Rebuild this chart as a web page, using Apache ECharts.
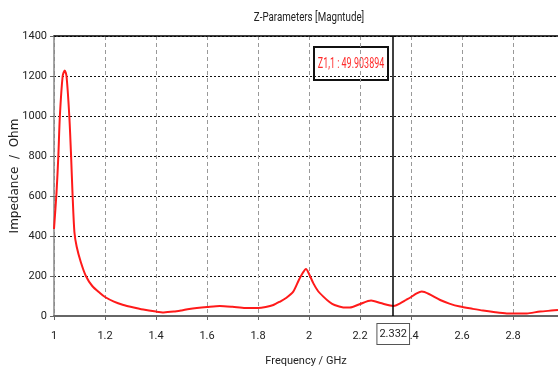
<!DOCTYPE html>
<html>
<head>
<meta charset="utf-8">
<script src="https://cdn.jsdelivr.net/npm/echarts@6/dist/echarts.min.js"></script>
<style>html,body{margin:0;padding:0;background:#fff}#c{width:558px;height:367px}</style>
</head>
<body>
<div id="c"></div>
<script>
var FONT = 'Roboto,"Liberation Sans",sans-serif';
var titleText = 'Z-Parameters [Magntude]';
var xName = 'Frequency / GHz';
var yName = 'Impedance  /  Ohm';
var markerFreq = 2.332;
var markerText = 'Z1,1 : 49.903894';
var freq = [1.000,1.010,1.017,1.023,1.034,1.042,1.049,1.060,1.067,1.073,1.080,1.089,1.105,1.125,1.150,1.180,1.200,1.235,1.272,1.300,1.350,1.400,1.430,1.470,1.500,1.530,1.560,1.600,1.650,1.700,1.750,1.800,1.830,1.860,1.886,1.910,1.938,1.960,1.975,1.988,2.000,2.017,2.035,2.056,2.080,2.100,2.134,2.160,2.200,2.243,2.280,2.318,2.332,2.357,2.380,2.400,2.422,2.442,2.470,2.514,2.550,2.592,2.640,2.682,2.730,2.775,2.820,2.854,2.906,2.950,2.976];
var imp  = [435,620,800,1000,1200,1228,1200,1000,800,600,420,346,270,200,150,115,95,72,55,46,32,22,18,22,28,35,40,45,50,46,40,40,45,55,72,90,122,180,215,235,210,163,125,97,70,55,43,42,60,77,65,52,50,63,80,95,113,122,110,80,62,47,36,27,19,13,12,13,22,27,30];
var data = freq.map(function(f,i){return [f, imp[i]];});

var chart = echarts.init(document.getElementById('c'), null, {renderer:'canvas'});
chart.setOption({
  animation:false,
  backgroundColor:'#fff',
  grid:{left:54,top:36,right:0,bottom:51,containLabel:false,outerBoundsMode:'none'},
  xAxis:[{
    type:'value',min:1,max:2.976,interval:0.2,
    name:xName,nameLocation:'middle',nameGap:40,nameMoveOverlap:false,
    nameTextStyle:{fontFamily:FONT,fontSize:11,color:'#222'},
    axisLine:{show:true,lineStyle:{color:'#666',width:2}},
    axisTick:{show:true,length:4,lineStyle:{color:'#666'}},
    axisLabel:{fontFamily:FONT,fontSize:11,color:'#222',margin:15,showMaxLabel:false},
    splitLine:{show:true,lineStyle:{color:'#999',type:[4,3],width:1}}
  },{
    type:'value',min:1,max:2.976,position:'top',
    axisLine:{show:true,lineStyle:{color:'#000',width:1.5}},
    axisTick:{show:false},axisLabel:{show:false},splitLine:{show:false}
  }],
  yAxis:{
    type:'value',min:0,max:1400,interval:200,
    name:yName,nameLocation:'middle',nameGap:33,nameMoveOverlap:false,
    nameTextStyle:{fontFamily:'"DejaVu Sans",Verdana,sans-serif',fontSize:12,color:'#222'},
    axisLine:{show:true,lineStyle:{color:'#888',width:1.5}},
    axisTick:{show:true,length:4,lineStyle:{color:'#666'}},
    axisLabel:{fontFamily:FONT,fontSize:11,color:'#222',margin:7,formatter:function(v){return String(v);}},
    splitLine:{show:true,lineStyle:{color:'#111',type:[2,2],width:1}}
  },
  series:[{
    type:'line',data:data,xAxisIndex:0,smooth:0.25,showSymbol:false,
    lineStyle:{color:'#ff1a1a',width:2},
    markLine:{
      silent:true,symbol:'none',
      lineStyle:{color:'#000',type:'solid',width:1.5},
      label:{show:true,position:'start',distance:8,formatter:String(markerFreq),
        fontFamily:FONT,fontSize:11,color:'#222',backgroundColor:'#fff',
        borderColor:'#555',borderWidth:1,padding:[5,2,4,2]},
      data:[{xAxis:markerFreq}]
    }
  }],
  graphic:[{
    type:'text',x:309,y:18,scaleX:0.75,
    style:{text:titleText,fill:'#222',font:'13px '+FONT,align:'center',verticalAlign:'middle'}
  },{
    type:'group',left:313,top:46,
    children:[{
      type:'rect',shape:{x:0,y:0,width:74,height:33},
      style:{fill:'#fff',stroke:'#111',lineWidth:2}
    },{
      type:'text',x:37,y:17,scaleX:0.64,
      style:{text:markerText,fill:'#ff2a2a',font:'14px '+FONT,align:'center',verticalAlign:'middle'}
    }]
  }]
});
</script>
</body>
</html>
